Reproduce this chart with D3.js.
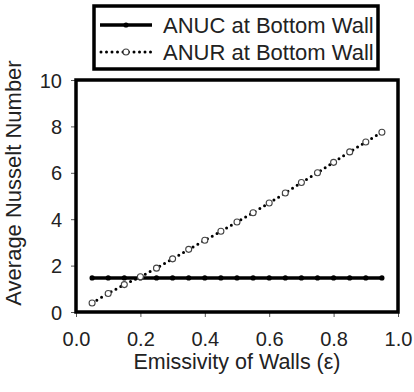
<!DOCTYPE html>
<html>
<head>
<meta charset="utf-8">
<script src="https://cdn.jsdelivr.net/npm/d3@7"></script>
<style>
  body { margin: 0; background: #fff; }
  text { font-family: "Liberation Sans", Arial, sans-serif; fill: #222; }
</style>
</head>
<body>
<div id="chart"></div>
<script>
// emissivity values (x)
var emissivity = [0.05,0.10,0.15,0.20,0.25,0.30,0.35,0.40,0.45,0.50,0.55,0.60,0.65,0.70,0.75,0.80,0.85,0.90,0.95];
// ANUC at bottom wall (convective)
var anuc = [1.47,1.47,1.47,1.47,1.47,1.47,1.47,1.47,1.47,1.47,1.47,1.47,1.47,1.47,1.47,1.47,1.47,1.47,1.47];
// ANUR at bottom wall (radiative)
var anur = [0.39,0.80,1.18,1.52,1.89,2.29,2.70,3.09,3.48,3.88,4.28,4.70,5.13,5.58,6.00,6.45,6.90,7.33,7.75];
var xTicks = [0,0.2,0.4,0.6,0.8,1.0];
var yTicks = [0,2,4,6,8,10];
var seriesNames = ['ANUC at Bottom Wall','ANUR at Bottom Wall'];

var fullWidth = 414, fullHeight = 392;
var margin = {top: 80, right: 16, bottom: 80, left: 76};
var width = fullWidth - margin.left - margin.right;   // 322
var height = fullHeight - margin.top - margin.bottom; // 232

var svg = d3.select('#chart').append('svg')
  .attr('width', fullWidth)
  .attr('height', fullHeight);

var g = svg.append('g')
  .attr('transform', 'translate(' + margin.left + ',' + margin.top + ')');

var xScale = d3.scaleLinear().domain([0, 1]).range([0, width]);
var yScale = d3.scaleLinear().domain([0, 10]).range([height, 0]);

// axes
var xAxis = d3.axisBottom(xScale).tickValues(xTicks).tickFormat(d3.format('.1f')).tickSize(5).tickSizeOuter(0);
var yAxis = d3.axisLeft(yScale).tickValues(yTicks).tickFormat(d3.format('d')).tickSize(5).tickSizeOuter(0);

var xg = g.append('g')
  .attr('transform', 'translate(0,' + height + ')')
  .call(xAxis);
xg.select('.domain').remove();
xg.selectAll('.tick line').attr('stroke', '#555');
xg.selectAll('.tick text')
  .attr('dy', null).attr('y', 34)
  .style('font-size', '20px').style('font-family', '"Liberation Sans", Arial, sans-serif')
  .attr('fill', '#222');

var yg = g.append('g').call(yAxis);
yg.select('.domain').remove();
yg.selectAll('.tick line').attr('stroke', '#555');
yg.selectAll('.tick text')
  .attr('x', -14).attr('dy', '0.35em')
  .style('font-size', '20px').style('font-family', '"Liberation Sans", Arial, sans-serif')
  .attr('fill', '#222');

// axis titles
svg.append('text')
  .attr('x', margin.left + width / 2)
  .attr('y', 369)
  .attr('text-anchor', 'middle')
  .style('font-size', '21.5px')
  .text('Emissivity of Walls (\u03b5)');

svg.append('text')
  .attr('transform', 'translate(21,183) rotate(-90)')
  .attr('text-anchor', 'middle')
  .style('font-size', '22px')
  .text('Average Nusselt Number');

// ANUC line
var line = d3.line()
  .x(function(d, i) { return xScale(emissivity[i]); })
  .y(function(d) { return yScale(d); });

g.append('path')
  .datum(anuc)
  .attr('d', line)
  .attr('fill', 'none')
  .attr('stroke', '#000')
  .attr('stroke-width', 3.5);

g.selectAll('circle.anuc')
  .data(anuc)
  .enter().append('circle')
  .classed('anuc', true)
  .attr('cx', function(d, i) { return xScale(emissivity[i]); })
  .attr('cy', function(d) { return yScale(d); })
  .attr('r', 2.6)
  .attr('fill', '#000');

// ANUR dotted line
g.append('path')
  .datum(anur)
  .attr('d', line)
  .attr('fill', 'none')
  .attr('stroke', '#000')
  .attr('stroke-width', 3)
  .attr('stroke-linecap', 'round')
  .attr('stroke-dasharray', '0 5.5');

g.selectAll('circle.anur')
  .data(anur)
  .enter().append('circle')
  .classed('anur', true)
  .attr('cx', function(d, i) { return xScale(emissivity[i]); })
  .attr('cy', function(d) { return yScale(d); })
  .attr('r', 3)
  .attr('fill', '#fff')
  .attr('stroke', '#444')
  .attr('stroke-width', 1.1);

// plot frame
g.append('rect')
  .attr('x', 0).attr('y', 0)
  .attr('width', width).attr('height', height)
  .attr('fill', 'none')
  .attr('stroke', '#000')
  .attr('stroke-width', 3.5);

// legend
var legend = svg.append('g');
legend.append('rect')
  .attr('x', 94).attr('y', 6)
  .attr('width', 284).attr('height', 63)
  .attr('fill', '#fff')
  .attr('stroke', '#000')
  .attr('stroke-width', 3.5);

legend.append('line')
  .attr('x1', 100).attr('x2', 152).attr('y1', 25).attr('y2', 25)
  .attr('stroke', '#000').attr('stroke-width', 3.5);
legend.append('circle')
  .attr('cx', 126).attr('cy', 25).attr('r', 2.6).attr('fill', '#000');

legend.append('line')
  .attr('x1', 101).attr('x2', 152).attr('y1', 52).attr('y2', 52)
  .attr('stroke', '#000').attr('stroke-width', 3)
  .attr('stroke-linecap', 'round').attr('stroke-dasharray', '0 5.5');
legend.append('circle')
  .attr('cx', 126).attr('cy', 52).attr('r', 3)
  .attr('fill', '#fff').attr('stroke', '#444').attr('stroke-width', 1.1);

legend.selectAll('text.leg')
  .data(seriesNames)
  .enter().append('text')
  .classed('leg', true)
  .attr('x', 163)
  .attr('y', function(d, i) { return 33 + i * 27; })
  .style('font-size', '22px')
  .text(function(d) { return d; });
</script>
</body>
</html>
